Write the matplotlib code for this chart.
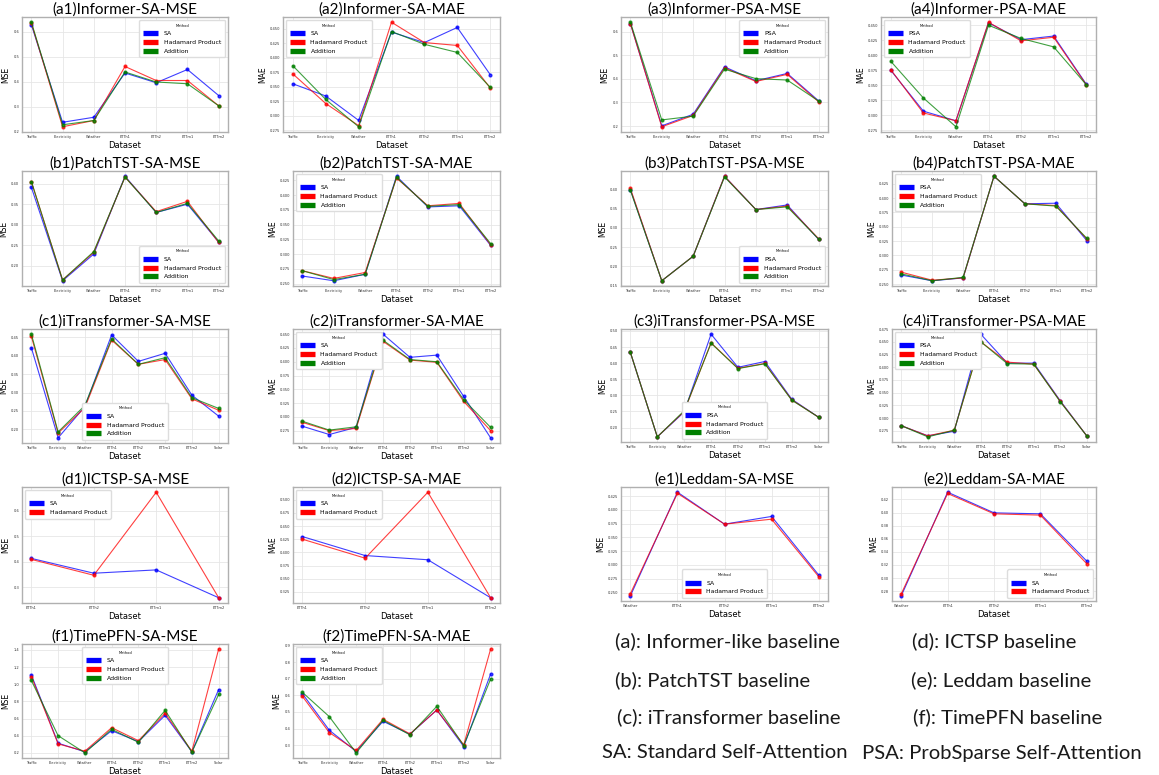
import matplotlib
matplotlib.use("Agg")
import matplotlib.pyplot as plt
from matplotlib.lines import Line2D

# categories
cats7 = ["Traffic", "Electricity", "Weather", "ETTh1", "ETTh2", "ETTm1", "ETTm2"]
cats8 = cats7 + ["Solar"]
cats_d = ["ETTh1", "ETTh2", "ETTm1", "ETTm2"]
cats_e = ["Weather", "ETTh1", "ETTh2", "ETTm1", "ETTm2"]

# (a) Informer
a1_sa = [0.628, 0.238, 0.258, 0.435, 0.396, 0.449, 0.345]
a1_had = [0.635, 0.220, 0.245, 0.461, 0.405, 0.405, 0.304]
a1_add = [0.638, 0.228, 0.245, 0.439, 0.399, 0.392, 0.304]
a2_sa = [0.355, 0.334, 0.292, 0.444, 0.426, 0.452, 0.371]
a2_had = [0.372, 0.321, 0.283, 0.461, 0.426, 0.421, 0.348]
a2_add = [0.386, 0.328, 0.281, 0.445, 0.423, 0.409, 0.349]
a3_psa = [0.634, 0.201, 0.250, 0.451, 0.392, 0.423, 0.307]
a3_had = [0.634, 0.197, 0.245, 0.447, 0.389, 0.419, 0.303]
a3_add = [0.640, 0.226, 0.242, 0.441, 0.401, 0.395, 0.306]
a4_psa = [0.375, 0.307, 0.291, 0.454, 0.426, 0.432, 0.352]
a4_had = [0.376, 0.304, 0.291, 0.455, 0.424, 0.430, 0.351]
a4_add = [0.390, 0.329, 0.281, 0.450, 0.428, 0.414, 0.351]

# (b) PatchTST
b1_sa = [0.391, 0.164, 0.229, 0.418, 0.330, 0.350, 0.258]
b1_had = [0.405, 0.166, 0.233, 0.416, 0.332, 0.357, 0.257]
b1_add = [0.405, 0.166, 0.235, 0.416, 0.330, 0.352, 0.261]
b2_sa = [0.263, 0.255, 0.266, 0.432, 0.380, 0.382, 0.315]
b2_had = [0.272, 0.259, 0.269, 0.429, 0.382, 0.386, 0.316]
b2_add = [0.272, 0.257, 0.266, 0.430, 0.381, 0.384, 0.318]
b3_psa = [0.400, 0.162, 0.226, 0.435, 0.348, 0.360, 0.270]
b3_had = [0.403, 0.162, 0.226, 0.435, 0.348, 0.357, 0.272]
b3_add = [0.398, 0.162, 0.226, 0.433, 0.348, 0.355, 0.271]
b4_psa = [0.266, 0.256, 0.261, 0.438, 0.390, 0.391, 0.326]
b4_had = [0.271, 0.257, 0.261, 0.438, 0.390, 0.387, 0.329]
b4_add = [0.268, 0.256, 0.262, 0.438, 0.390, 0.386, 0.330]

# (c) iTransformer
c1_sa = [0.422, 0.177, 0.262, 0.457, 0.385, 0.407, 0.293, 0.236]
c1_had = [0.453, 0.190, 0.259, 0.443, 0.377, 0.390, 0.283, 0.252]
c1_add = [0.459, 0.193, 0.265, 0.446, 0.377, 0.395, 0.286, 0.257]
c2_sa = [0.283, 0.268, 0.281, 0.450, 0.408, 0.412, 0.337, 0.262]
c2_had = [0.290, 0.275, 0.279, 0.437, 0.403, 0.399, 0.328, 0.275]
c2_add = [0.292, 0.276, 0.282, 0.439, 0.404, 0.400, 0.331, 0.281]
c3_psa = [0.433, 0.171, 0.248, 0.490, 0.387, 0.405, 0.288, 0.232]
c3_had = [0.433, 0.171, 0.250, 0.463, 0.384, 0.399, 0.286, 0.232]
c3_add = [0.433, 0.171, 0.252, 0.462, 0.383, 0.398, 0.285, 0.232]
c4_psa = [0.285, 0.265, 0.274, 0.465, 0.408, 0.408, 0.334, 0.265]
c4_had = [0.285, 0.265, 0.276, 0.450, 0.410, 0.406, 0.333, 0.265]
c4_add = [0.285, 0.263, 0.276, 0.450, 0.407, 0.406, 0.332, 0.265]

# (d) ICTSP
d1_sa = [0.413, 0.355, 0.368, 0.259]
d1_had = [0.409, 0.347, 0.672, 0.259]
d2_sa = [0.430, 0.394, 0.386, 0.314]
d2_had = [0.425, 0.389, 0.514, 0.314]

# (e) Leddam
e1_sa = [0.244, 0.432, 0.374, 0.388, 0.282]
e1_had = [0.248, 0.430, 0.374, 0.383, 0.279]
e2_sa = [0.273, 0.431, 0.3995, 0.398, 0.326]
e2_had = [0.276, 0.429, 0.398, 0.396, 0.322]

# (f) TimePFN
f1_sa = [1.108, 0.312, 0.212, 0.458, 0.331, 0.637, 0.212, 0.938]
f1_had = [1.089, 0.304, 0.219, 0.493, 0.342, 0.660, 0.219, 1.408]
f1_add = [1.043, 0.400, 0.200, 0.474, 0.323, 0.695, 0.208, 0.880]
f2_sa = [0.610, 0.390, 0.262, 0.444, 0.366, 0.512, 0.292, 0.728]
f2_had = [0.594, 0.376, 0.268, 0.456, 0.368, 0.512, 0.302, 0.878]
f2_add = [0.618, 0.472, 0.254, 0.450, 0.362, 0.534, 0.298, 0.698]

W, H = 1159, 775
fig = plt.figure(figsize=(W / 100, H / 100), dpi=100)
TITLE_FONT = ["Lato", "DejaVu Sans"]
colors = ["#0000ff", "#ff0000", "#008000"]


def panel(box, title, cats, series, names, ylabel, loc, anchor=None):
    x0, x1, y0, y1 = box
    ax = fig.add_axes([x0 / W, 1 - y1 / H, (x1 - x0) / W, (y1 - y0) / H])
    for vals, c in zip(series, colors):
        ax.plot(cats, vals, color=c, lw=0.8, alpha=0.75, marker="o", ms=2)
    ax.grid(True, color="#e6e6e6", lw=0.6)
    ax.set_axisbelow(True)
    for s in ax.spines.values():
        s.set_color("#b0b0b0")
        s.set_linewidth(1.0)
    ax.tick_params(labelsize=2.6, length=0, pad=2, colors="#333333")
    ax.set_xlabel("Dataset", fontsize=6, labelpad=1.5)
    ax.set_ylabel(ylabel, fontsize=5.5, labelpad=2)
    ax.set_title(title, fontsize=11, family=TITLE_FONT, pad=2)
    handles = [Line2D([], [], color=c, lw=3.8, solid_capstyle="butt")
               for c in colors[:len(series)]]
    kw = dict(title="Method", fontsize=4.4, title_fontsize=2.6,
              handlelength=2.5, handletextpad=0.9, borderpad=0.6,
              labelspacing=0.55, framealpha=1, edgecolor="#dddddd",
              fancybox=True, loc=loc)
    if anchor is not None:
        kw["bbox_to_anchor"] = anchor
    ax.legend(handles, names, **kw)
    return ax


n3 = ["SA", "Hadamard Product", "Addition"]
p3 = ["PSA", "Hadamard Product", "Addition"]
n2 = ["SA", "Hadamard Product"]

panel((22, 228, 17, 132), "(a1)Informer-SA-MSE", cats7, [a1_sa, a1_had, a1_add], n3, "MSE", "upper right")
panel((283, 500, 17, 132), "(a2)Informer-SA-MAE", cats7, [a2_sa, a2_had, a2_add], n3, "MAE", "upper left")
panel((621, 828, 17, 132), "(a3)Informer-PSA-MSE", cats7, [a3_psa, a3_had, a3_add], p3, "MSE", "upper right")
panel((881, 1096, 17, 132), "(a4)Informer-PSA-MAE", cats7, [a4_psa, a4_had, a4_add], p3, "MAE", "upper left")

panel((22, 228, 171, 286), "(b1)PatchTST-SA-MSE", cats7, [b1_sa, b1_had, b1_add], n3, "MSE", "lower right")
panel((293, 500, 171, 286), "(b2)PatchTST-SA-MAE", cats7, [b2_sa, b2_had, b2_add], n3, "MAE", "upper left")
panel((621, 828, 171, 286), "(b3)PatchTST-PSA-MSE", cats7, [b3_psa, b3_had, b3_add], p3, "MSE", "lower right")
panel((892, 1096, 171, 286), "(b4)PatchTST-PSA-MAE", cats7, [b4_psa, b4_had, b4_add], p3, "MAE", "upper left")

panel((22, 228, 329, 443), "(c1)iTransformer-SA-MSE", cats8, [c1_sa, c1_had, c1_add], n3, "MSE", "lower center")
panel((293, 500, 329, 443), "(c2)iTransformer-SA-MAE", cats8, [c2_sa, c2_had, c2_add], n3, "MAE", "upper left")
panel((621, 828, 329, 442), "(c3)iTransformer-PSA-MSE", cats8, [c3_psa, c3_had, c3_add], p3, "MSE", "lower center")
panel((892, 1096, 329, 442), "(c4)iTransformer-PSA-MAE", cats8, [c4_psa, c4_had, c4_add], p3, "MAE", "upper left")

panel((22, 228, 487, 603), "(d1)ICTSP-SA-MSE", cats_d, [d1_sa, d1_had], n2, "MSE", "upper left")
panel((293, 500, 487, 603), "(d2)ICTSP-SA-MAE", cats_d, [d2_sa, d2_had], n2, "MAE", "upper left")
panel((621, 828, 487, 601), "(e1)Leddam-SA-MSE", cats_e, [e1_sa, e1_had], n2, "MSE", "lower center")
panel((892, 1096, 487, 601), "(e2)Leddam-SA-MAE", cats_e, [e2_sa, e2_had], n2, "MAE", "lower right")

panel((22, 228, 644, 758), "(f1)TimePFN-SA-MSE", cats8, [f1_sa, f1_had, f1_add], n3, "MSE", "upper center")
panel((293, 500, 644, 758), "(f2)TimePFN-SA-MAE", cats8, [f2_sa, f2_had, f2_add], n3, "MAE", "upper left")

# caption block
notes_left = ["(a): Informer-like baseline", "(b): PatchTST baseline",
              "(c): iTransformer baseline", "SA: Standard Self-Attention"]
notes_right = ["(d): ICTSP baseline", "(e): Leddam baseline",
               "(f): TimePFN baseline", "PSA: ProbSparse Self-Attention"]
left_x = [615, 615, 617, 602]
right_x = [912, 911, 913, 862]
rows_y = [641, 680, 717, 753]
for txt, x, y in zip(notes_left, left_x, rows_y):
    fig.text(x / W, 1 - y / H, txt, fontsize=14.6, family=TITLE_FONT,
             va="center", ha="left", color="#1a1a1a")
for txt, x, y in zip(notes_right, right_x, rows_y):
    fig.text(x / W, 1 - y / H, txt, fontsize=14.6, family=TITLE_FONT,
             va="center", ha="left", color="#1a1a1a")

fig.savefig("out.png", dpi=100)
